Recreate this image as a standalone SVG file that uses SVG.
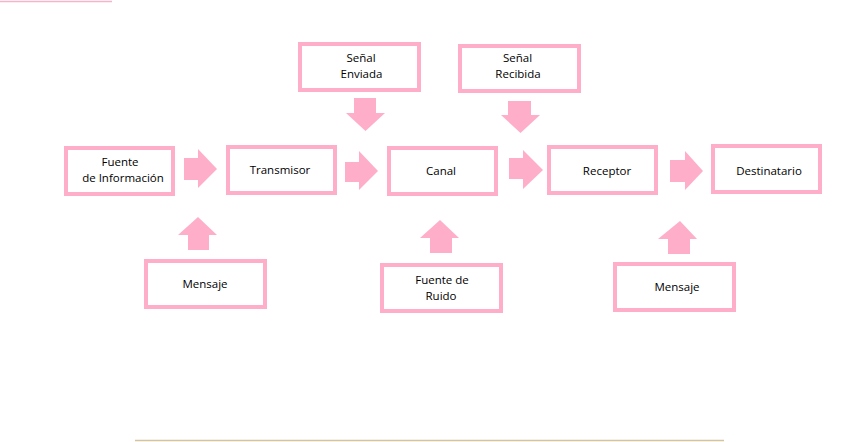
<svg xmlns="http://www.w3.org/2000/svg" width="847" height="442" viewBox="0 0 847 442">
<style>
.box{fill:#ffffff;stroke:#ffaec9;stroke-width:4}
.arr{fill:#ffaec9}
text{font-family:"Open Sans","Noto Sans","Liberation Sans",sans-serif;font-size:11.5px;fill:#000;text-anchor:middle}
</style>
<rect width="847" height="442" fill="#ffffff"/>
<line x1="0" y1="1.5" x2="112" y2="1.5" stroke="#f7b3c9" stroke-width="1.5"/>
<line x1="135" y1="440.5" x2="724" y2="440.5" stroke="#d3c49e" stroke-width="1.5"/>

<g id="connectors">
  <polygon class="arr" points="184,158 198,158 198,149 217,169 198,188 198,180 184,180"/>
  <polygon class="arr" points="345,162 359,162 359,151 378,171 359,190 359,182 345,182"/>
  <polygon class="arr" points="509,158 523,158 523,150 543,170 523,189 523,179 509,179"/>
  <polygon class="arr" points="670,160 685,160 685,151 703,171 685,190 685,182 670,182"/>
  <polygon class="arr" points="354,98 376,98 376,113 385,113 365.5,131 346,113 354,113"/>
  <polygon class="arr" points="508,101 531,101 531,115 540,115 520.5,133 501,115 508,115"/>
  <polygon class="arr" points="188,250 209,250 209,235 217,235 198,217 178,235 188,235"/>
  <polygon class="arr" points="430,253 452,253 452,238 459,238 440,220 420,238 430,238"/>
  <polygon class="arr" points="668,254 690,254 690,239 697,239 680,221 658,239 668,239"/>
</g>

<g id="fuente-informacion">
  <rect class="box" x="66" y="148" width="107" height="46"/>
  <text x="120" y="166">Fuente</text>
  <text x="123" y="182">de Información</text>
</g>
<g id="transmisor">
  <rect class="box" x="228" y="147" width="107" height="46"/>
  <text x="280" y="174">Transmisor</text>
</g>
<g id="canal">
  <rect class="box" x="389" y="148" width="107" height="46"/>
  <text x="441" y="175">Canal</text>
</g>
<g id="receptor">
  <rect class="box" x="549" y="147" width="107" height="46"/>
  <text x="607" y="175">Receptor</text>
</g>
<g id="destinatario">
  <rect class="box" x="713" y="146" width="107" height="46"/>
  <text x="769" y="175">Destinatario</text>
</g>
<g id="senal-enviada">
  <rect class="box" x="300" y="44" width="119" height="46"/>
  <text x="361" y="62">Señal</text>
  <text x="361.5" y="78">Enviada</text>
</g>
<g id="senal-recibida">
  <rect class="box" x="460" y="46" width="119" height="45"/>
  <text x="517.5" y="62">Señal</text>
  <text x="518" y="78">Recibida</text>
</g>
<g id="mensaje-1">
  <rect class="box" x="146" y="261" width="119" height="46"/>
  <text x="205" y="288">Mensaje</text>
</g>
<g id="fuente-ruido">
  <rect class="box" x="382" y="265" width="119" height="46"/>
  <text x="442" y="284">Fuente de</text>
  <text x="441" y="300">Ruido</text>
</g>
<g id="mensaje-2">
  <rect class="box" x="615" y="264" width="119" height="46"/>
  <text x="677" y="291">Mensaje</text>
</g>
</svg>
